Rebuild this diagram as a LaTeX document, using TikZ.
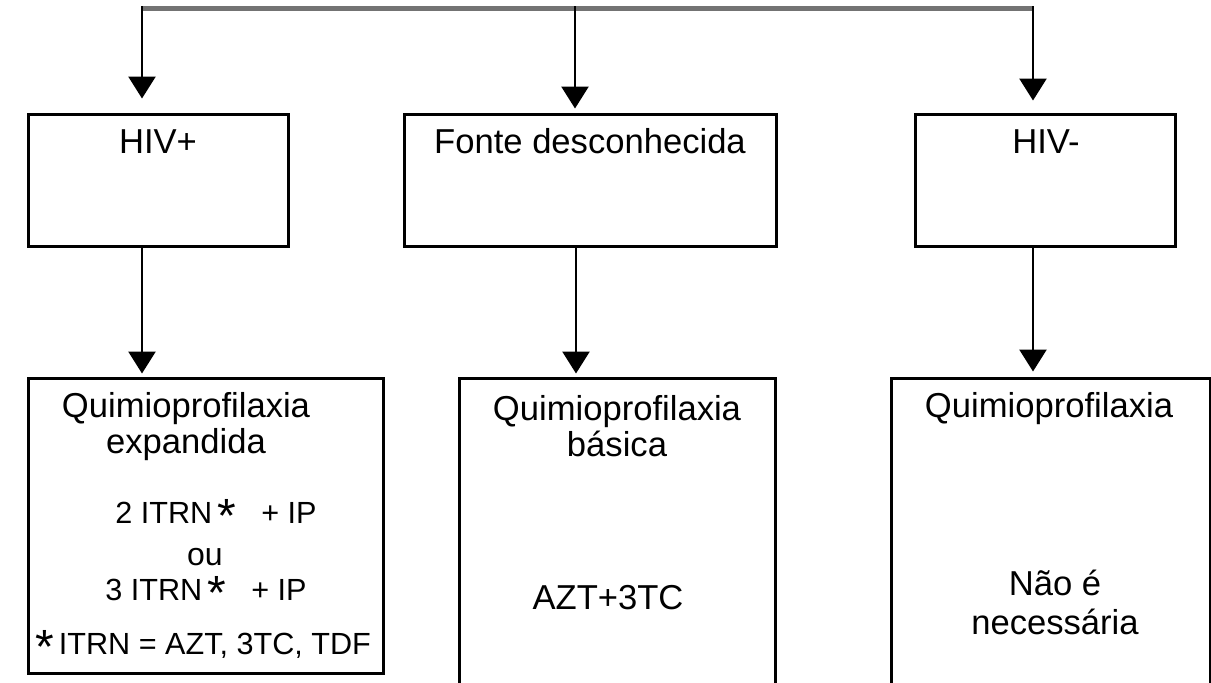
\documentclass[tikz,border=0pt]{standalone}
\usepackage{fontspec}
\setmainfont{Liberation Sans}
\usetikzlibrary{arrows.meta}
% enlarged footnote asterisk, top aligned with the capitals
\newcommand{\bigstar}{\smash{\raisebox{-4.5pt}{\fontsize{24}{24}\selectfont *}}}
\begin{document}
\begin{tikzpicture}[x=0.5pt,y=-0.5pt,
  box/.style={draw, line width=1.5pt, inner sep=0pt},
  arr/.style={line width=1.3pt, -{Triangle[width=13.5pt,length=11pt]}},
  bar/.style={line width=2.2pt, black!55},
  bigtxt/.style={font=\fontsize{17.3}{18}\selectfont, align=center, inner sep=0pt},
  midtxt/.style={font=\fontsize{17.3}{19.5}\selectfont, align=center, inner sep=0pt},
  smalltxt/.style={font=\fontsize{15.3}{17}\selectfont, inner sep=0pt}]
\useasboundingbox (0,0) rectangle (1211,682);
\clip (0,0) rectangle (1211,682);

% top distribution bar
\coordinate (tl) at (142,8.5);
\coordinate (tm) at (575,8.5);
\coordinate (tr) at (1033,8.5);

% first row of boxes
\node[box, minimum width=130pt, minimum height=66pt] (hivpos) at (158,180) {};
\node[box, minimum width=186pt, minimum height=66pt] (fonte)  at (590,180) {};
\node[box, minimum width=130pt, minimum height=66pt] (hivneg) at (1045,180) {};

% second row of boxes
\node[box, minimum width=177.5pt, minimum height=147.5pt] (expand) at (205.5,525.5) {};
\node[box, minimum width=158pt, minimum height=171pt] (basica) at (617,549) {};
\node[box, minimum width=159.5pt, minimum height=171pt] (naonec) at (1050.5,549) {};

% labels of the first row
\node[bigtxt] (t1) at (158,142) {HIV+};
\node[bigtxt] (t2) at (590,141) {Fonte desconhecida};
\node[bigtxt] (t3) at (1046,142) {HIV-};

% labels of the second row
\node[bigtxt] (q1) at (186,427) {Quimioprofilaxia\\expandida};
\node[smalltxt] (r1) at (216,513) {2 ITRN\,\bigstar\hspace{0.55em} + IP};
\node[bigtxt, font=\fontsize{16}{18}\selectfont] (r2) at (205,557) {ou};
\node[smalltxt] (r3) at (206,590) {3 ITRN\,\bigstar\hspace{0.55em} + IP};
\node[smalltxt] (r4) at (203,646) {\bigstar\,ITRN = AZT, 3TC, TDF};

\node[bigtxt] (q2) at (617,426) {Quimioprofilaxia\\básica};
\node[bigtxt] (a2) at (608,598) {AZT+3TC};

\node[bigtxt] (q3) at (1049,409) {Quimioprofilaxia};
\node[midtxt] (a3) at (1055,602) {Não é\\necessária};

% connectors
\draw[bar] (tl) -- (tr);
\draw[arr, shorten >=7pt] ([yshift=1.25pt]tl) -- (tl |- hivpos.north);
\draw[arr, shorten >=2pt] ([yshift=1.25pt]tm) -- (tm |- fonte.north);
\draw[arr, shorten >=6pt] ([yshift=1.25pt]tr) -- (tr |- hivneg.north);

\draw[arr, shorten >=1.5pt] (tl |- hivpos.south) -- (tl |- expand.north);
\draw[arr, shorten >=1.5pt] ([xshift=0.5pt]tm |- fonte.south) -- ([xshift=0.5pt]tm |- basica.north);
\draw[arr, shorten >=2.5pt] (tr |- hivneg.south) -- (tr |- naonec.north);
\end{tikzpicture}
\end{document}
